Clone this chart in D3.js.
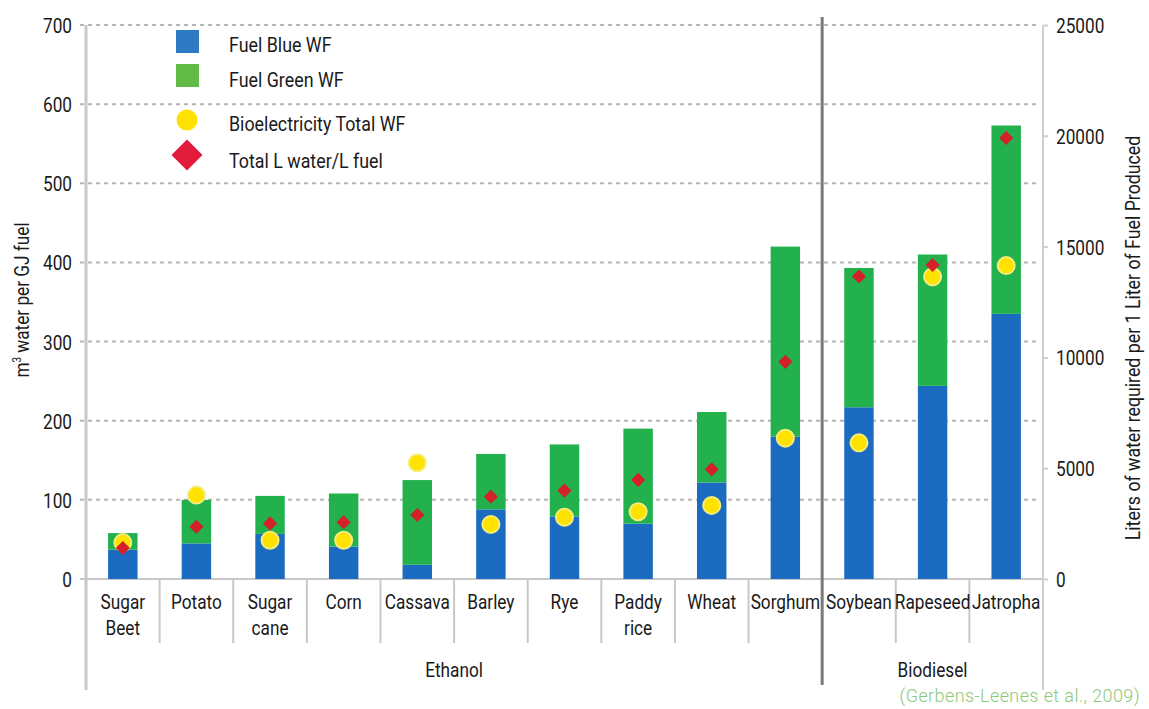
<!DOCTYPE html>
<html><head><meta charset="utf-8">
<script src="https://cdn.jsdelivr.net/npm/d3@7"></script>
<style>
body{margin:0;background:#fff;}
svg{display:block;}
text{font-family:Roboto,"Open Sans",sans-serif;}
</style></head>
<body>
<svg id="c" width="1149" height="709"></svg>
<script>
const categories = ["Sugar Beet","Potato","Sugar cane","Corn","Cassava","Barley","Rye","Paddy rice","Wheat","Sorghum","Soybean","Rapeseed","Jatropha"];
const categoryLines = [["Sugar","Beet"],["Potato"],["Sugar","cane"],["Corn"],["Cassava"],["Barley"],["Rye"],["Paddy","rice"],["Wheat"],["Sorghum"],["Soybean"],["Rapeseed"],["Jatropha"]];
const fuelType = ["Ethanol","Ethanol","Ethanol","Ethanol","Ethanol","Ethanol","Ethanol","Ethanol","Ethanol","Ethanol","Biodiesel","Biodiesel","Biodiesel"];
const blueWF = [37,45,57,41,18,88,79,70,122,180,217,244,335];
const totalWF = [58,100,105,108,125,158,170,190,211,420,393,410,573];
const greenWF = totalWF.map((t,i)=>t-blueWF[i]);
const bioelecWF = [46,106,49,49,147,69,78,85,93,178,172,382,396];
const litersPerLiter = [1400,2360,2510,2560,2890,3710,3990,4470,4950,9800,13650,14170,19900];
const leftTicks = [0,100,200,300,400,500,600,700];
const rightTicks = [0,5000,10000,15000,20000,25000];
const legendLabels = ["Fuel Blue WF","Fuel Green WF","Bioelectricity Total WF","Total L water/L fuel"];
const groups = ["Ethanol","Biodiesel"];
const citation = "(Gerbens-Leenes et al., 2009)";

const C = {blue:"#1b6cc0", green:"#22b14c", lblue:"#2e7bc4", lgreen:"#63bb47", yellow:"#ffe200", red:"#d42027", lred:"#e31b3b", text:"#1a1a1a"};
const SX = 0.82, FS = 21;

const svg = d3.select("#c");
const X0 = 86, X1 = 1043, Y0 = 579, Y1 = 25;

function ctext(parent, x, y, str, opts={}){
  const g = parent.append("g").attr("transform",`translate(${x},${y})${opts.rot?` rotate(${opts.rot})`:""} scale(${opts.sx||SX},1)`);
  const t = g.append("text").attr("x",0).attr("y",0).attr("font-size",opts.size||FS)
    .attr("text-anchor",opts.anchor||"start").style("fill",C.text);
  if(str!==null) t.text(str);
  return t;
}

const yL = d3.scaleLinear().domain([0,700]).range([Y0,Y1]);
const yR = d3.scaleLinear().domain([0,25000]).range([Y0,Y1]);
const xBand = d3.scaleBand().domain(categories).range([X0,X1]).paddingInner(0.6).paddingOuter(0.3);
const xCell = d3.scaleBand().domain(categories).range([X0,X1]).padding(0);
const step = xCell.step();

// gridlines
svg.append("g").selectAll("line").data(leftTicks.slice(1)).join("line")
  .attr("x1",80).attr("x2",X1-4).attr("y1",d=>yL(d)).attr("y2",d=>yL(d))
  .attr("stroke","#b5b5b5").attr("stroke-width",2).attr("stroke-dasharray","4,4");

// axis lines
svg.append("line").attr("x1",X0).attr("x2",X0).attr("y1",Y1).attr("y2",690).attr("stroke","#c8c8c8").attr("stroke-width",3);
svg.append("line").attr("x1",X1).attr("x2",X1).attr("y1",Y1).attr("y2",690).attr("stroke","#cfcfcf").attr("stroke-width",2);
svg.append("line").attr("x1",80).attr("x2",X1).attr("y1",Y0).attr("y2",Y0).attr("stroke","#c8c8c8").attr("stroke-width",2);

// left axis
const la = svg.append("g").attr("transform",`translate(${X0-14},0)`)
  .call(d3.axisLeft(yL).tickValues(leftTicks).tickSize(0).tickPadding(0));
la.select(".domain").remove();
la.selectAll("text").attr("x",0).attr("font-size",FS).attr("dy","0.36em").attr("transform",`scale(${SX},1)`).style("fill",C.text);

// right axis
const ra = svg.append("g").attr("transform",`translate(${X1},0)`)
  .call(d3.axisRight(yR).tickValues(rightTicks).tickFormat(d3.format("d")).tickSize(5).tickPadding(8));
ra.select(".domain").remove();
ra.selectAll("line").attr("stroke","#cfcfcf").attr("stroke-width",2);
ra.selectAll("text").attr("x",0).attr("font-size",FS).attr("dy","0.36em").attr("transform",`translate(13,0) scale(${SX},1)`).style("fill",C.text);

// category separators
svg.append("g").selectAll("line").data(categories.slice(1)).join("line")
  .attr("x1",d=>xCell(d)).attr("x2",d=>xCell(d)).attr("y1",Y0).attr("y2",643)
  .attr("stroke","#c8c8c8").attr("stroke-width",2);

// stacked bars
const bars = svg.append("g");
bars.selectAll("rect.b").data(categories).join("rect").attr("class","b")
  .attr("x",d=>xBand(d)).attr("width",xBand.bandwidth())
  .attr("y",(d,i)=>yL(blueWF[i])).attr("height",(d,i)=>yL(0)-yL(blueWF[i])).attr("fill",C.blue);
bars.selectAll("rect.g").data(categories).join("rect").attr("class","g")
  .attr("x",d=>xBand(d)).attr("width",xBand.bandwidth())
  .attr("y",(d,i)=>yL(blueWF[i]+greenWF[i])).attr("height",(d,i)=>yL(blueWF[i])-yL(blueWF[i]+greenWF[i])).attr("fill",C.green);

// group divider
const divX = xCell("Soybean");
svg.append("line").attr("x1",divX).attr("x2",divX).attr("y1",17).attr("y2",685).attr("stroke","#7a7a7a").attr("stroke-width",3);

// yellow circles
svg.append("g").selectAll("circle").data(categories).join("circle")
  .attr("cx",d=>xBand(d)+xBand.bandwidth()/2).attr("cy",(d,i)=>yL(bioelecWF[i])).attr("r",8.5)
  .attr("fill",C.yellow).attr("stroke","#f5ec7a").attr("stroke-width",2);

// red diamonds
const dia = d3.symbol().type(d3.symbolSquare).size(100);
svg.append("g").selectAll("path").data(categories).join("path")
  .attr("d",dia)
  .attr("transform",(d,i)=>`translate(${xBand(d)+xBand.bandwidth()/2},${yR(litersPerLiter[i])}) rotate(45)`)
  .attr("fill",C.red);

// category labels
const cl = svg.append("g");
categories.forEach((c,i)=>{
  categoryLines[i].forEach((ln,j)=>ctext(cl, xCell(c)+step/2, 609+26*j, ln, {anchor:"middle"}));
});

// group labels
groups.forEach(g=>{
  const idx = categories.filter((c,i)=>fuelType[i]===g);
  const a = xCell(idx[0]), b = xCell(idx[idx.length-1])+step;
  ctext(svg, (a+b)/2, 677, g, {anchor:"middle"});
});

// axis titles
const lt = ctext(svg, 29, 300, null, {rot:-90, anchor:"middle", size:21});
lt.append("tspan").text("m");
lt.append("tspan").attr("font-size",12).attr("dy",-8).text("3");
lt.append("tspan").attr("dy",8).text(" water per GJ fuel");
ctext(svg, 1140, 338, "Liters of water required per 1 Liter of Fuel Produced", {rot:-90, anchor:"middle", size:21, sx:0.845});

// legend
const lg = svg.append("g");
lg.append("rect").attr("x",176).attr("y",30).attr("width",23).attr("height",23).attr("fill",C.lblue);
lg.append("rect").attr("x",176).attr("y",64).attr("width",23).attr("height",23).attr("fill",C.lgreen);
lg.append("circle").attr("cx",187).attr("cy",120).attr("r",10.5).attr("fill",C.yellow);
lg.append("path").attr("d",d3.symbol().type(d3.symbolSquare).size(480)).attr("transform","translate(187,155) rotate(45)").attr("fill",C.lred);
const ly = [52,87,131,168];
legendLabels.forEach((l,i)=>ctext(lg, 229, ly[i], l, {sx:0.85}));

// citation
svg.append("text").attr("x",1140).attr("y",702).attr("text-anchor","end").attr("font-size",18)
  .attr("letter-spacing",0.4)
  .style("font-family","Roboto, 'Open Sans', sans-serif").style("font-weight",300).style("fill","#8cc97a").text(citation);
</script>
</body></html>
